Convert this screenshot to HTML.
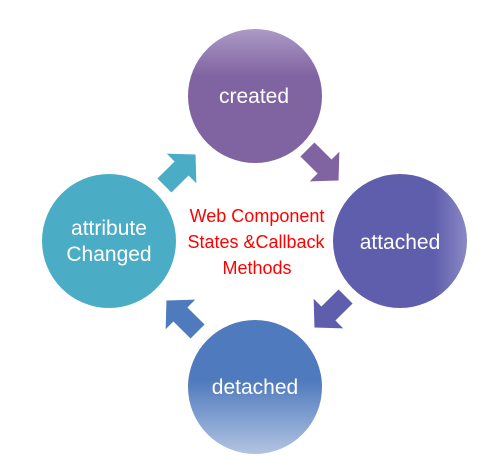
<!DOCTYPE html>
<html><head><style>body{margin:0;background:#fff}svg{display:block}</style></head><body>
<svg width="501" height="467" viewBox="0 0 501 467" xmlns="http://www.w3.org/2000/svg">
<defs>
<linearGradient id="gc" x1="0" y1="0" x2="0" y2="1"><stop offset="0" stop-color="#ab9ac6"/><stop offset="0.35" stop-color="#8064a2"/><stop offset="1" stop-color="#8064a2"/></linearGradient>
<linearGradient id="ga" x1="0" y1="0" x2="1" y2="0"><stop offset="0" stop-color="#5f5ead"/><stop offset="0.75" stop-color="#5f5ead"/><stop offset="1" stop-color="#8a88c4"/></linearGradient>
<linearGradient id="gd" x1="0" y1="0" x2="0" y2="1"><stop offset="0" stop-color="#4f7abd"/><stop offset="0.45" stop-color="#4f7abd"/><stop offset="1" stop-color="#b2c3e2"/></linearGradient>
<path id="arr" d="M-20,-9 L2,-9 L2,-19 L20,0 L2,19 L2,9 L-20,9 Z"/>
</defs>
<circle cx="255" cy="96" r="67" fill="url(#gc)"/>
<circle cx="400" cy="241" r="67" fill="url(#ga)"/>
<circle cx="255" cy="387" r="67" fill="url(#gd)"/>
<circle cx="109" cy="241" r="67" fill="#4bacc6"/>
<use href="#arr" transform="translate(323,165) rotate(45) scale(1.1)" fill="#8064a2"/>
<use href="#arr" transform="translate(330,312) rotate(135) scale(1.1)" fill="#5f5ead"/>
<use href="#arr" transform="translate(182,316) rotate(225) scale(1.1)" fill="#4f7abd"/>
<use href="#arr" transform="translate(180,170) rotate(-45) scale(1.1)" fill="#4bacc6"/>
<g font-family="Liberation Sans, sans-serif" fill="#fff" font-size="21" text-anchor="middle">
<text x="254" y="103">created</text>
<text x="400" y="249">attached</text>
<text x="255" y="394">detached</text>
<text x="109" y="235">attribute</text>
<text x="109" y="261">Changed</text>
</g>
<g font-family="Liberation Sans, sans-serif" fill="#ff0000" font-size="18" text-anchor="middle">
<text x="257" y="222">Web Component</text>
<text x="256" y="248">States &amp;Callback</text>
<text x="257" y="274">Methods</text>
</g>
</svg>
</body></html>
